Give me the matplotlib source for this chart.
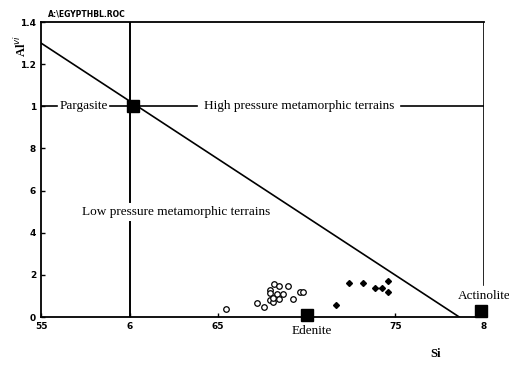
import matplotlib.pyplot as plt

# end-member compositions
members = ['Pargasite', 'Edenite', 'Actinolite']
member_si = [6.02, 7.0, 7.98]
member_al = [1.0, 0.01, 0.03]

# open circles
open_si = [6.543, 6.719, 6.757, 6.790, 6.790, 6.816, 6.841, 6.832, 6.866, 6.790,
           6.808, 6.808, 6.841, 6.892, 6.921, 6.963, 6.978]
open_al = [0.037, 0.068, 0.046, 0.126, 0.114, 0.157, 0.148, 0.110, 0.110, 0.081,
           0.071, 0.088, 0.086, 0.148, 0.086, 0.118, 0.118]

# filled symbols
fill_si = [7.167, 7.236, 7.317, 7.387, 7.425, 7.459, 7.459]
fill_al = [0.057, 0.159, 0.159, 0.140, 0.140, 0.170, 0.119]

# dividing line
line_si = [5.5, 7.86]
line_al = [1.3, 0.0]

xticks = [5.5, 6, 6.5, 7.5, 8]
xlabels = ['55', '6', '65', '75', '8']
yticks = [0, 0.2, 0.4, 0.6, 0.8, 1.0, 1.2, 1.4]
ylabels = ['0', '2', '4', '6', '8', '1', '1.2', '1.4']

fig = plt.figure(figsize=(5.09, 3.65), dpi=100)
ax = fig.add_axes([0.0806, 0.1315, 0.8704, 0.8082])
ax.set_xlim(5.5, 8.0)
ax.set_ylim(0, 1.4)

ax.plot(line_si, line_al, color='black', lw=1.2)

# guide lines with gaps for the labels
ax.plot([5.5, 5.59], [1, 1], color='black', lw=1.2)
ax.plot([5.89, 6.38], [1, 1], color='black', lw=1.2)
ax.plot([7.53, 8.0], [1, 1], color='black', lw=1.2)
ax.plot([6, 6], [1.4, 0.545], color='black', lw=1.4)
ax.plot([6, 6], [0.45, 0], color='black', lw=1.4)
ax.plot([8, 8], [1.4, 0.15], color='black', lw=1.2)

ax.plot(open_si, open_al, 'o', mfc='white', mec='black', ms=4, mew=0.9, clip_on=False)
ax.plot(fill_si, fill_al, 'D', color='black', ms=3, clip_on=False)
ax.plot(fill_si[3:5], fill_al[3:5], color='black', lw=1)
ax.plot(member_si, member_al, 's', color='black', ms=8.5, clip_on=False)

serif = 'Liberation Serif'
fs = 9.5
ax.text(5.74, 1.0, 'Pargasite', fontsize=fs, family=serif, ha='center', va='center')
ax.text(6.955, 1.0, 'High pressure metamorphic terrains', fontsize=fs, family=serif,
        ha='center', va='center')
ax.text(6.26, 0.5, 'Low pressure metamorphic terrains', fontsize=fs, family=serif,
        ha='center', va='center')
ax.text(7.03, -0.065, 'Edenite', fontsize=fs, family=serif, ha='center', va='center',
        clip_on=False)
ax.text(8.0, 0.1, 'Actinolite', fontsize=fs, family=serif, ha='center', va='center',
        clip_on=False)

ax.set_xticks(xticks)
ax.set_xticklabels(xlabels)
ax.set_yticks(yticks)
ax.set_yticklabels(ylabels)
ax.tick_params(direction='in', length=3, labelsize=6.5, width=1)
for lab in ax.get_xticklabels() + ax.get_yticklabels():
    lab.set_fontweight('bold')

ax.spines['right'].set_visible(False)
for s in ['left', 'bottom', 'top']:
    ax.spines[s].set_linewidth(1.3)

fig.text(0.094, 0.962, 'A:\\EGYPTHBL.ROC', fontsize=5.5, weight='bold', ha='left', va='center')
fig.text(0.042, 0.875, 'Al$^{vi}$', fontsize=9, family=serif, weight='bold', rotation=90,
         ha='center', va='center')
fig.text(0.855, 0.03, 'Si', fontsize=9, family=serif, weight='bold', ha='center', va='center')

fig.savefig('out.png', dpi=100)
